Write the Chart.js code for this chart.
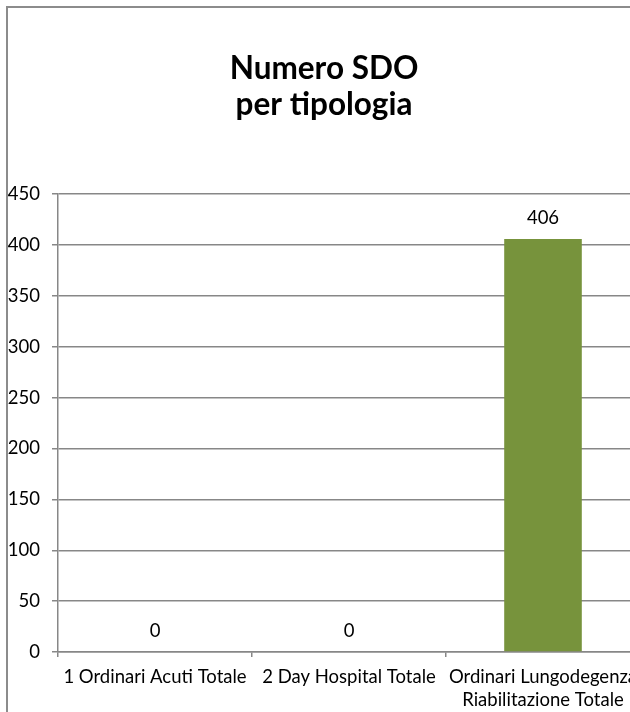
<!DOCTYPE html>
<html>
<head>
<meta charset="utf-8">
<script src="https://cdn.jsdelivr.net/npm/chart.js@4"></script>
<style>
  html, body { margin: 0; padding: 0; background: #fff; overflow: hidden; }
  #box {
    position: absolute; left: 6px; top: 6px;
    width: 640px; height: 740px;
    border: 2px solid #8c8c8c; background: #fff;
  }
  canvas { display: block; }
</style>
</head>
<body>
<div id="box"><canvas id="myChart" width="634" height="720"></canvas></div>
<script>
const categories = [
  "1 Ordinari Acuti Totale",
  "2 Day Hospital Totale",
  ["Ordinari Lungodegenza", "Riabilitazione Totale"]
];
const sdoValues = [0, 0, 406];
const titleLines = ["Numero SDO", "per tipologia"];

const gridGrey = "#878787";
const fontName = "Lato, 'Open Sans', sans-serif";

// value labels above each bar
const valueLabels = {
  id: "valueLabels",
  afterDatasetsDraw(chart) {
    const ctx = chart.ctx;
    const meta = chart.getDatasetMeta(0);
    ctx.save();
    ctx.font = "18.5px " + fontName;
    ctx.fillStyle = "#000";
    ctx.textAlign = "center";
    ctx.textBaseline = "middle";
    meta.data.forEach((bar, i) => {
      ctx.fillText(String(sdoValues[i]), bar.x, bar.y - 21);
    });
    ctx.restore();
  }
};

const chartData = {
  labels: categories,
  datasets: [
    {
      label: "SDO",
      backgroundColor: "#77933C",
      borderWidth: 0,
      data: sdoValues,
      barPercentage: 0.4,
      categoryPercentage: 1.0,
    },
  ],
};

const config = {
  type: "bar",
  data: chartData,
  plugins: [valueLabels],
  options: {
    responsive: false,
    animation: false,
    layout: { padding: { left: 0, right: 2, top: 0, bottom: 0 } },
    plugins: {
      legend: { display: false },
      tooltip: { enabled: false },
      title: {
        display: true,
        text: titleLines,
        color: "#000",
        font: { family: fontName, size: 31.5, weight: "bold", lineHeight: 1.13 },
        padding: { top: 43, bottom: 72 },
      },
    },
    scales: {
      x: {
        afterFit(scale) {
          scale.height = 76;
          scale.paddingLeft = 0;
          scale.paddingRight = 0;
        },
        grid: {
          drawOnChartArea: false,
          drawTicks: true,
          tickLength: 5,
          color: gridGrey,
          lineWidth: 1.5,
        },
        border: { color: gridGrey, width: 1.5 },
        ticks: {
          color: "#000",
          font: { family: fontName, size: 18.5, lineHeight: 1.25 },
          padding: 8,
          maxRotation: 0,
          autoSkip: false,
        },
      },
      y: {
        min: 0,
        max: 450,
        afterFit(scale) { scale.width = 50; },
        grid: {
          color: gridGrey,
          lineWidth: 1.5,
          tickLength: 6,
        },
        border: { color: gridGrey, width: 1.5 },
        ticks: {
          stepSize: 50,
          color: "#000",
          font: { family: fontName, size: 18.5 },
          padding: 12,
        },
      },
    },
  },
};

const myChart = new Chart(document.getElementById("myChart"), config);
</script>
</body>
</html>
